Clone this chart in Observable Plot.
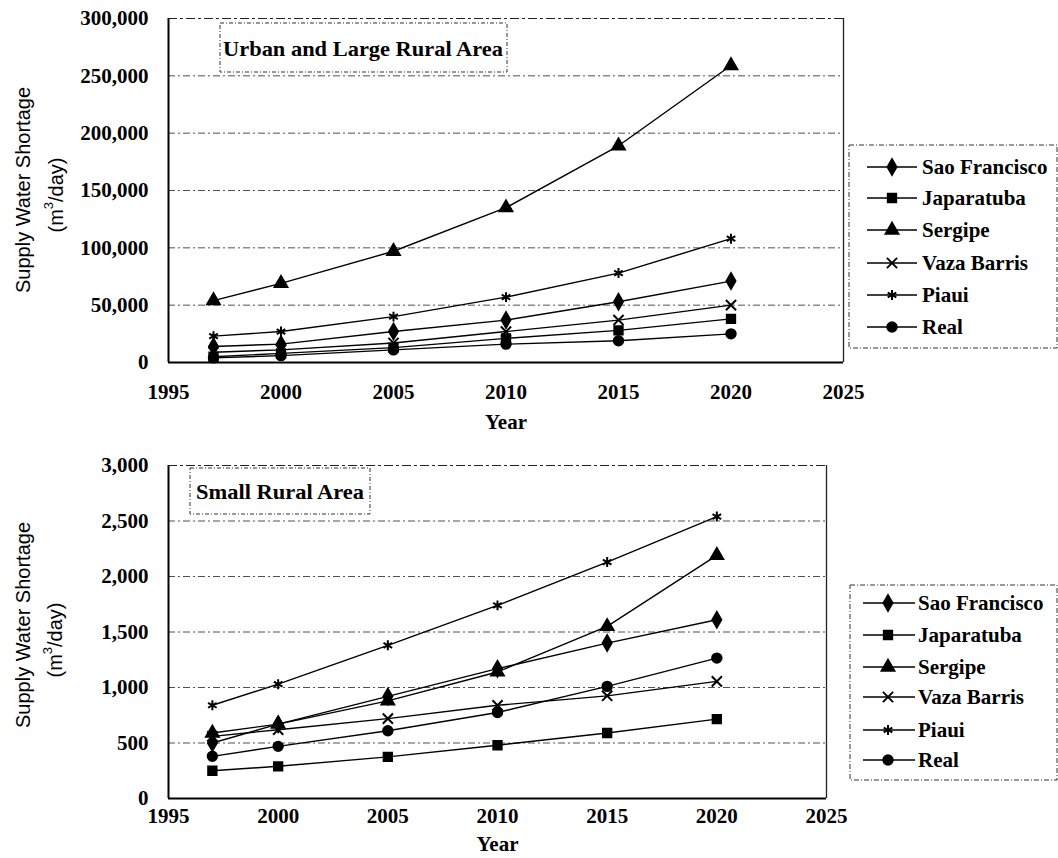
<!DOCTYPE html>
<html>
<head>
<meta charset="utf-8">
<script src="https://cdn.jsdelivr.net/npm/d3@7"></script>
<script src="https://cdn.jsdelivr.net/npm/@observablehq/plot@0.6"></script>
<style>
  html, body { margin: 0; padding: 0; background: #fff; }
  #wrap { position: relative; width: 1058px; height: 858px; background: #fff; overflow: hidden; }
  #top, #bottom { position: absolute; left: 0; }
  #top { top: 0; }
  #bottom { top: 435px; }
  #overlay { position: absolute; left: 0; top: 0; pointer-events: none; }
</style>
</head>
<body>
<div id="wrap">
  <div id="top"></div>
  <div id="bottom"></div>
  <svg id="overlay" width="1058" height="858"></svg>
</div>
<script>
// ---- data ----
const years = [1997, 2000, 2005, 2010, 2015, 2020];
const basins = ["Sao Francisco", "Japaratuba", "Sergipe", "Vaza Barris", "Piaui", "Real"];
const markerTypes = ["diamond", "square", "triangle", "times", "asterisk", "circle"];

// Urban and Large Rural Area (m3/day)
const urbanSaoFrancisco = [14000, 16000, 27000, 37000, 53000, 71000];
const urbanJaparatuba   = [5000, 8000, 13000, 21000, 28000, 38000];
const urbanSergipe      = [54000, 69000, 97000, 135000, 189000, 259000];
const urbanVazaBarris   = [9000, 11000, 17000, 27000, 37000, 50000];
const urbanPiaui        = [23000, 27000, 40000, 57000, 78000, 108000];
const urbanReal         = [4000, 6000, 11000, 16000, 19000, 25000];

// Small Rural Area (m3/day)
const smallSaoFrancisco = [500, 670, 920, 1170, 1400, 1610];
const smallJaparatuba   = [250, 290, 375, 480, 590, 715];
const smallSergipe      = [590, 670, 880, 1140, 1550, 2190];
const smallVazaBarris   = [560, 620, 720, 840, 925, 1055];
const smallPiaui        = [840, 1030, 1380, 1740, 2130, 2540];
const smallReal         = [380, 470, 610, 775, 1010, 1265];

const xTicks = [1995, 2000, 2005, 2010, 2015, 2020, 2025];
const urbanYTicks = [0, 50000, 100000, 150000, 200000, 250000, 300000];
const smallYTicks = [0, 500, 1000, 1500, 2000, 2500, 3000];

const urbanTitle = "Urban and Large Rural Area";
const smallTitle = "Small Rural Area";
const yTitle = "Supply Water Shortage";
const xTitle = "Year";

// ---- build tables ----
function table(seriesArrays) {
  const rows = [];
  basins.forEach((b, i) => {
    seriesArrays[i].forEach((v, j) => rows.push({basin: b, year: years[j], value: v}));
  });
  return rows;
}
const urbanData = table([urbanSaoFrancisco, urbanJaparatuba, urbanSergipe, urbanVazaBarris, urbanPiaui, urbanReal]);
const smallData = table([smallSaoFrancisco, smallJaparatuba, smallSergipe, smallVazaBarris, smallPiaui, smallReal]);

const serif = "'Liberation Serif', 'Times New Roman', serif";
const gridDash = "7,3,2,3";
const markerR = 4.7;

function panel(data, yTicks, opts) {
  const yMax = yTicks[yTicks.length - 1];
  return Plot.plot({
    width: 860,
    height: opts.height,
    marginLeft: 168,
    marginRight: opts.marginRight,
    marginTop: opts.marginTop,
    marginBottom: opts.marginBottom,
    style: {fontFamily: serif, fontSize: "21px", fontWeight: "bold", color: "#000", background: "transparent", overflow: "visible"},
    x: {domain: [1995, 2025]},
    y: {domain: [0, yMax]},
    symbol: {domain: basins, range: markerTypes},
    marks: [
      Plot.gridY(yTicks.filter(v => v > 0 && v < yMax), {stroke: "#333", strokeOpacity: 0.85, strokeDasharray: gridDash, strokeWidth: 1}),
      Plot.ruleY([yMax], {stroke: "#222", strokeDasharray: "9,3,3,3", strokeWidth: 1.2}),
      Plot.ruleX([2025], {stroke: "#222", strokeWidth: 1.3}),
      Plot.ruleX([1995], {stroke: "#000", strokeWidth: 2}),
      Plot.ruleY([0], {stroke: "#000", strokeWidth: 2}),
      Plot.axisX({ticks: xTicks, tickSize: 0, tickPadding: opts.xPad, tickFormat: d => String(d),
                  label: xTitle, labelAnchor: "center", labelOffset: opts.labelOffset, labelArrow: "none"}),
      Plot.axisY({ticks: yTicks, tickSize: 0, tickPadding: 20, tickFormat: d3.format(","), label: null}),
      Plot.line(data, {x: "year", y: "value", z: "basin", stroke: "#000", strokeWidth: 1.4}),
      Plot.dot(data, {x: "year", y: "value", symbol: "basin", fill: "#000", stroke: "#000", strokeWidth: 2, r: markerR})
    ]
  });
}

document.getElementById("top").appendChild(panel(urbanData, urbanYTicks,
  {height: 435, marginRight: 17, marginTop: 18, marginBottom: 73, xPad: 22, labelOffset: 66}));
document.getElementById("bottom").appendChild(panel(smallData, smallYTicks,
  {height: 423, marginRight: 34, marginTop: 30, marginBottom: 60, xPad: 10, labelOffset: 52}));

// ---- overlay: y titles, panel titles, legends ----
const ov = d3.select("#overlay");

function yLabel(cx1, cy1, cx2, cy2) {
  ov.append("text")
    .attr("transform", `translate(${cx1},${cy1}) rotate(-90)`)
    .attr("text-anchor", "middle").attr("dominant-baseline", "central")
    .attr("font-family", "'Liberation Sans', Arial, sans-serif").attr("font-size", 20)
    .text(yTitle);
  const t = ov.append("text")
    .attr("transform", `translate(${cx2},${cy2}) rotate(-90)`)
    .attr("text-anchor", "middle").attr("dominant-baseline", "central")
    .attr("font-family", "'Liberation Sans', Arial, sans-serif").attr("font-size", 20);
  t.append("tspan").text("(m");
  t.append("tspan").attr("font-size", 13).attr("dy", -8).text("3");
  t.append("tspan").attr("dy", 8).text("/day)");
}
yLabel(23, 190, 56, 195);
yLabel(23, 625, 55, 640);

function titleBox(text, x0, y0, x1, y1, tx, ty, tlen) {
  ov.append("rect").attr("x", x0).attr("y", y0).attr("width", x1 - x0).attr("height", y1 - y0)
    .attr("fill", "#fff").attr("stroke", "#333").attr("stroke-dasharray", "4,2,1,2").attr("stroke-width", 1);
  ov.append("text").attr("x", tx).attr("y", ty).attr("dominant-baseline", "central")
    .attr("font-family", serif).attr("font-weight", "bold").attr("font-size", 21)
    .attr("textLength", tlen).attr("lengthAdjust", "spacingAndGlyphs")
    .text(text);
}
titleBox(urbanTitle, 220, 23, 507, 72, 223, 49, 280);
titleBox(smallTitle, 190, 468, 370, 514, 196, 492, 168);

function legend(x0, y0, x1, y1, rowYs, lx0, lx1, mx, tx) {
  ov.append("rect").attr("x", x0).attr("y", y0).attr("width", x1 - x0).attr("height", y1 - y0)
    .attr("fill", "#fff").attr("stroke", "#333").attr("stroke-dasharray", "5,2,1,2").attr("stroke-width", 1);
  basins.forEach((b, i) => {
    const y = rowYs[i];
    ov.append("line").attr("x1", lx0).attr("x2", lx1).attr("y1", y).attr("y2", y)
      .attr("stroke", "#000").attr("stroke-width", 1.4);
    const typeName = markerTypes[i];
    const symType = {diamond: d3.symbolDiamond, square: d3.symbolSquare, triangle: d3.symbolTriangle,
                     times: d3.symbolTimes, asterisk: d3.symbolAsterisk, circle: d3.symbolCircle}[typeName];
    ov.append("path").attr("transform", `translate(${mx},${y})`)
      .attr("d", d3.symbol(symType, Math.PI * markerR * markerR)())
      .attr("fill", "#000").attr("stroke", "#000").attr("stroke-width", 2);
    ov.append("text").attr("x", tx).attr("y", y).attr("dominant-baseline", "central")
      .attr("font-family", serif).attr("font-weight", "bold").attr("font-size", 21)
      .text(b);
  });
}
legend(849, 145, 1057, 348, [167, 198, 230, 263, 295, 327], 867, 917, 892, 922);
legend(850, 585, 1057, 780, [603, 635, 667, 697, 730, 760], 863, 915, 888, 918);
</script>
</body>
</html>
